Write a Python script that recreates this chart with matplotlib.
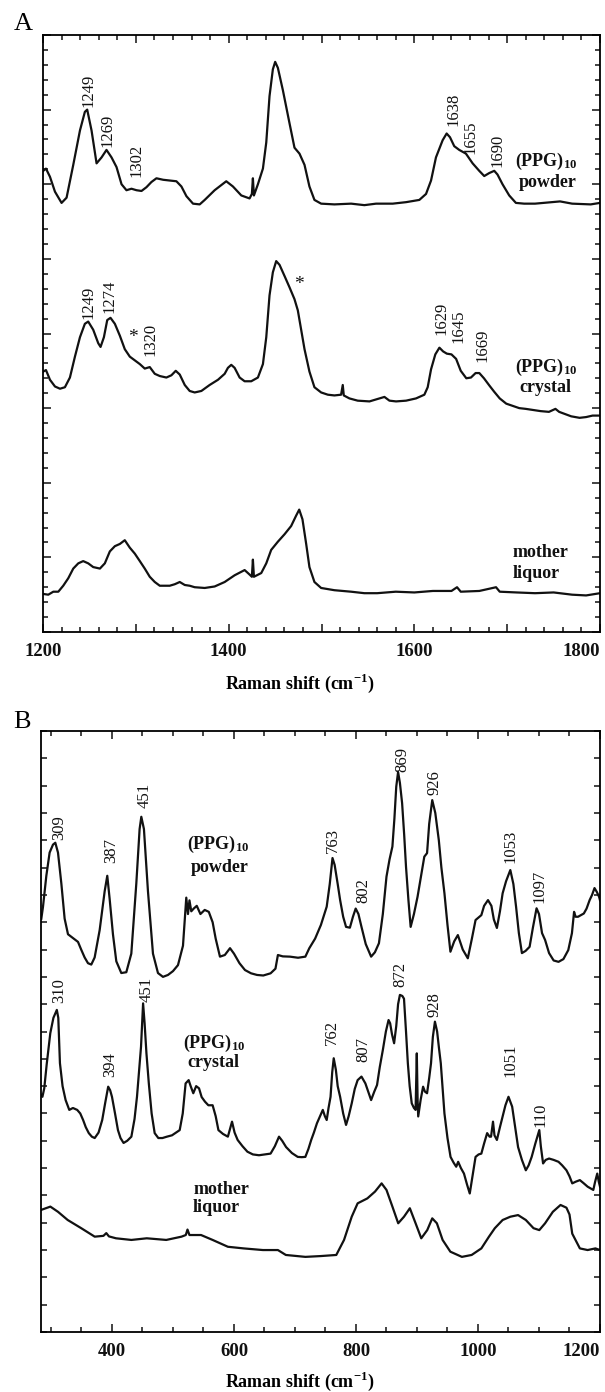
import matplotlib
matplotlib.use("Agg")
import matplotlib.pyplot as plt
from matplotlib.ticker import MultipleLocator

plt.rcParams['font.family'] = ['Liberation Serif', 'DejaVu Serif']
plt.rcParams['mathtext.fontset'] = 'custom'
plt.rcParams['mathtext.rm'] = 'Liberation Serif'
plt.rcParams['mathtext.bf'] = 'Liberation Serif:bold'

# ---------------- Panel A data (Raman shift cm-1, stacked intensity, a.u.) ----------------
a_powder_x = [1200.3, 1203.2, 1207.5, 1212.9, 1220.0, 1225.4, 1232.6, 1239.8, 1245.1, 1247.6, 1252.3, 1257.7,
              1263.1, 1268.4, 1273.8, 1279.2, 1284.6, 1289.9, 1295.3, 1300.7, 1306.1, 1311.4, 1316.8, 1322.2,
              1329.4, 1336.5, 1343.7, 1349.1, 1354.5, 1361.6, 1368.8, 1374.2, 1384.9, 1397.4, 1404.6, 1413.6,
              1422.5, 1425.0, 1426.1, 1427.2, 1431.5, 1436.9, 1440.5, 1444.0, 1447.6, 1450.1, 1453.0, 1458.4,
              1465.5, 1470.9, 1476.3, 1481.7, 1487.0, 1492.4, 1499.6, 1513.9, 1531.9, 1546.2, 1558.8, 1576.7,
              1591.1, 1605.4, 1612.6, 1618.0, 1623.3, 1630.5, 1634.8, 1638.4, 1643.0, 1648.4, 1655.6, 1662.8,
              1669.9, 1675.3, 1680.7, 1686.1, 1689.6, 1695.0, 1702.2, 1709.4, 1718.3, 1730, 1757, 1770, 1790, 1800]
a_powder_y = [6.18, 6.21, 6.10, 5.90, 5.75, 5.82, 6.26, 6.72, 6.97, 7.00, 6.72, 6.28,
              6.36, 6.46, 6.36, 6.23, 6.00, 5.92, 5.94, 5.92, 5.91, 5.96, 6.03, 6.08,
              6.06, 6.05, 6.04, 5.97, 5.84, 5.74, 5.73, 5.79, 5.92, 6.04, 5.97, 5.85,
              5.81, 5.87, 6.08, 5.85, 6.00, 6.21, 6.56, 7.18, 7.54, 7.64, 7.56, 7.26,
              6.82, 6.49, 6.41, 6.26, 5.97, 5.79, 5.74, 5.73, 5.74, 5.72, 5.74, 5.74,
              5.76, 5.79, 5.87, 6.05, 6.36, 6.59, 6.68, 6.63, 6.51, 6.46, 6.41, 6.28,
              6.18, 6.11, 6.15, 6.18, 6.13, 6.00, 5.85, 5.75, 5.74, 5.74, 5.77, 5.74, 5.73, 5.75]

a_crystal_x = [1200.3, 1203.2, 1207.5, 1212.9, 1218.3, 1223.6, 1229.0, 1234.4, 1239.8, 1245.1, 1248.7, 1254.1,
               1259.5, 1262.0, 1265.6, 1269.2, 1272.7, 1277.4, 1282.8, 1288.1, 1293.5, 1298.9, 1304.3, 1309.6,
               1315.0, 1320.4, 1325.8, 1332.9, 1338.3, 1343.0, 1347.3, 1352.7, 1358.0, 1363.4, 1370.6, 1379.5,
               1388.5, 1395.7, 1399.2, 1402.8, 1406.4, 1411.8, 1417.2, 1424.3, 1431.5, 1436.9, 1440.5, 1444.0,
               1447.6, 1451.2, 1454.8, 1460.2, 1465.5, 1470.9, 1474.5, 1478.1, 1481.7, 1487.0, 1492.4, 1499.6,
               1506.8, 1513.9, 1521.1, 1522.9, 1524.0, 1530.1, 1539.0, 1551.7, 1562.4, 1567.8, 1573.2, 1580.3,
               1591.1, 1601.8, 1610.8, 1614.4, 1618, 1622.6, 1627, 1631, 1635, 1640, 1645, 1650, 1656, 1661,
               1666, 1670, 1675, 1681, 1686, 1692, 1699, 1706, 1713, 1720, 1736, 1745, 1752, 1756, 1769, 1778,
               1785, 1792, 1800]
a_crystal_y = [3.49, 3.51, 3.38, 3.29, 3.26, 3.28, 3.41, 3.69, 3.95, 4.13, 4.16, 4.05,
               3.87, 3.82, 3.95, 4.18, 4.21, 4.13, 3.97, 3.79, 3.69, 3.64, 3.59, 3.53,
               3.55, 3.46, 3.43, 3.41, 3.44, 3.50, 3.45, 3.31, 3.23, 3.21, 3.23, 3.31,
               3.38, 3.46, 3.54, 3.58, 3.54, 3.41, 3.36, 3.36, 3.41, 3.59, 3.95, 4.51,
               4.82, 4.97, 4.92, 4.77, 4.62, 4.46, 4.31, 4.05, 3.79, 3.49, 3.28, 3.21,
               3.18, 3.17, 3.18, 3.31, 3.17, 3.13, 3.10, 3.09, 3.13, 3.15, 3.10, 3.09,
               3.10, 3.13, 3.18, 3.28, 3.52, 3.72, 3.81, 3.76, 3.73, 3.72, 3.66, 3.50, 3.40, 3.41,
               3.47, 3.47, 3.40, 3.30, 3.22, 3.13, 3.06, 3.03, 3.00, 2.99, 2.96, 2.95, 2.99, 2.95, 2.89, 2.87,
               2.88, 2.90, 2.90]

a_mother_x = [1200.3, 1205.7, 1211.1, 1216.5, 1221.8, 1227.2, 1232.6, 1238.0, 1243.3, 1248.7, 1254.1, 1261.3,
              1266.6, 1272.0, 1277.4, 1282.8, 1288.1, 1293.5, 1298.9, 1304.3, 1309.6, 1315.0, 1320.4, 1325.8,
              1331.2, 1336.5, 1341.9, 1347.3, 1352.7, 1358.0, 1363.4, 1374.2, 1384.9, 1395.7, 1406.4, 1417.2,
              1422.5, 1425.0, 1426.1, 1427.2, 1435.1, 1440.5, 1445.8, 1453.0, 1460.2, 1467.3, 1472.7, 1476.0,
              1479.5, 1483.5, 1487.0, 1492.4, 1499.6, 1513.9, 1531.9, 1546.2, 1560, 1580, 1600, 1620, 1640,
              1646, 1650, 1670, 1688, 1692, 1710, 1730, 1750, 1770, 1785, 1800]
a_mother_y = [0.51, 0.50, 0.54, 0.54, 0.62, 0.72, 0.85, 0.92, 0.95, 0.92, 0.87, 0.85,
              0.92, 1.08, 1.15, 1.18, 1.23, 1.13, 1.05, 0.95, 0.85, 0.74, 0.67, 0.62,
              0.62, 0.62, 0.64, 0.67, 0.63, 0.62, 0.60, 0.59, 0.61, 0.67, 0.76, 0.83,
              0.77, 0.74, 0.97, 0.74, 0.79, 0.92, 1.10, 1.21, 1.31, 1.42, 1.56, 1.64,
              1.51, 1.18, 0.87, 0.67, 0.59, 0.56, 0.54, 0.52, 0.52, 0.54, 0.53, 0.55, 0.55,
              0.60, 0.54, 0.55, 0.60, 0.54, 0.53, 0.52, 0.53, 0.50, 0.49, 0.52]

# peak labels: (text, x, y of label start)
a_powder_labels = [("1249", 1249, 7.04), ("1269", 1270, 6.50), ("1302", 1301, 6.10),
                   ("1638", 1642, 6.78), ("1655", 1661, 6.40), ("1690", 1690, 6.23)]
a_crystal_labels = [("1249", 1249, 4.20), ("1274", 1272, 4.28), ("1320", 1316, 3.70),
                    ("1629", 1629, 3.98), ("1645", 1648, 3.87), ("1669", 1673, 3.62)]
a_stars = [(1297, 3.94), (1476, 4.65)]

# ---------------- Panel B data ----------------
b_powder_x = [284.2, 286.9, 292.4, 297.8, 303.3, 307.1, 311.5, 317.0, 322.4, 327.9, 336.1, 344.3, 349.7, 355.2,
              360.7, 366.1, 371.6, 379.8, 388.0, 392.3, 396.2, 401.6, 407.1, 415.3, 423.5, 431.7, 439.9, 445.3,
              448.1, 452.4, 459.0, 467.2, 475.4, 483.6, 491.8, 500.0, 508.2, 516.4, 521.8, 524.6, 527.0, 530.0,
              534.0, 539.0, 545.0, 552.0, 558.7, 565.0, 570.0, 577.0, 585.0, 593.5, 600.0, 609.0, 618.0, 628.0,
              637.8, 648.0, 660.0, 668.0, 672.0, 680.0, 691.8, 705.0, 717.0, 723.5, 733.0, 742.5, 752.0, 757.0,
              761.5, 765.0, 770.0, 774.0, 779.0, 783.7, 790.0, 795.0, 799.5, 804.0, 809.0, 816.0, 824.8, 831.0,
              837.6, 844.0, 850.0, 855.0, 859.7, 863.0, 866.0, 869.0, 872.0, 875.6, 879.0, 882.0, 886.0, 889.6,
              895.0, 900.9, 906.0, 912.0, 916.5, 920.0, 925.0, 930.0, 935.8, 940.0, 945.0, 950.0, 954.8, 961.0,
              967.0, 975.0, 983.3, 990.0, 996.0, 1005.5, 1010.0, 1016.4, 1022.0, 1026.0, 1031.0, 1036.0, 1040.4,
              1046.0, 1053.0, 1058.0, 1062.4, 1067.0, 1072.0, 1078.0, 1084.6, 1090.0, 1096.0, 1100.0, 1105.0,
              1110.0, 1116.5, 1124.0, 1132.0, 1140.0, 1148.0, 1154.0, 1157.5, 1160.0, 1164.0, 1173.5, 1178.0,
              1183.0, 1187.0, 1191.0, 1195.0, 1198.5, 1200.0]
b_powder_y = [15.13, 15.56, 16.70, 17.55, 17.84, 17.91, 17.55, 16.42, 15.13, 14.56, 14.42, 14.28, 13.99, 13.71,
              13.50, 13.45, 13.71, 14.71, 16.13, 16.70, 15.85, 14.56, 13.57, 13.14, 13.17, 13.85, 16.42, 18.41,
              18.86, 18.41, 16.13, 13.85, 13.14, 13.00, 13.07, 13.21, 13.43, 14.14, 15.90, 15.30, 15.80, 15.40,
              15.50, 15.60, 15.30, 15.45, 15.38, 15.00, 14.40, 13.74, 13.80, 14.05, 13.85, 13.50, 13.25, 13.13,
              13.07, 13.05, 13.13, 13.30, 13.80, 13.75, 13.74, 13.70, 13.74, 14.05, 14.40, 14.90, 15.57, 16.40,
              17.35, 17.10, 16.40, 15.81, 15.20, 14.83, 14.80, 15.20, 15.50, 15.30, 14.83, 14.20, 13.74, 13.90,
              14.23, 15.30, 16.67, 17.30, 17.77, 18.80, 19.96, 20.50, 20.10, 19.36, 18.20, 17.03, 15.80, 14.83,
              15.30, 15.93, 16.60, 17.40, 17.53, 18.60, 19.47, 19.00, 18.00, 17.00, 16.06, 14.90, 13.92, 14.30,
              14.53, 14.00, 13.68, 14.40, 15.08, 15.26, 15.60, 15.81, 15.60, 15.10, 14.79, 15.40, 16.06,
              16.50, 16.91, 16.40, 15.57, 14.60, 13.87, 13.95, 14.10, 14.80, 15.51, 15.30, 14.60,
              14.35, 13.87, 13.60, 13.55, 13.65, 13.98, 14.60, 15.38, 15.20, 15.20, 15.32, 15.50,
              15.81, 16.00, 16.25, 16.10, 15.93, 15.80]

b_crystal_x = [283.0, 286.0, 289.0, 293.0, 298.9, 304.0, 309.6, 312.0, 314.7, 319.0, 324.0, 330.0, 336.0, 343.0,
               348.0, 352.7, 357.0, 362.0, 367.0, 371.7, 378.0, 384.0, 389.0, 393.8, 397.0, 400.0, 405.0, 409.8,
               414.0, 419.0, 425.0, 431.8, 437.0, 441.0, 444.5, 447.6, 451.0, 453.5, 456.5, 460.4, 465.0, 470.0,
               476.0, 482.7, 490.0, 498.4, 505.0, 511.0, 516.0, 520.7, 525.7, 529.0, 533.3, 538.0, 542.7, 547.0,
               552.5, 558.0, 565.0, 570.0, 574.5, 582.0, 590.0, 596.8, 601.0, 606.0, 614.0, 622.0, 631.0, 641.0,
               650.0, 660.0, 667.0, 673.8, 679.0, 685.4, 695.0, 704.5, 711.0, 717.0, 722.0, 726.6, 731.0, 736.0,
               741.0, 745.6, 749.0, 752.0, 755.0, 758.3, 761.0, 763.5, 767.0, 770.0, 774.0, 779.0, 783.7, 788.0,
               793.0, 798.0, 802.7, 809.0, 815.4, 820.0, 824.8, 830.0, 834.5, 839.0, 844.0, 849.0, 853.4, 856.0,
               859.0, 862.5, 866.0, 869.0, 872.0, 876.0, 878.7, 882.0, 885.0, 888.0, 891.4, 895.0, 897.7, 899.7,
               901.0, 902.0, 906.0, 910.0, 913.0, 916.5, 920.0, 923.0, 926.0, 929.4, 933.0, 936.0, 939.0, 942.0,
               945.0, 950.0, 955.0, 960.0, 964.3, 967.5, 972.0, 977.0, 982.0, 986.5, 991.0, 996.0, 1001.0,
               1005.5, 1010.0, 1015.0, 1019.0, 1021.4, 1024.6, 1027.0, 1031.0, 1036.0, 1040.4, 1045.0, 1050.0,
               1056.0, 1061.0, 1065.7, 1072.0, 1078.4, 1083.0, 1088.0, 1094.0, 1100.5, 1103.0, 1106.7, 1111.0,
               1116.5, 1124.0, 1132.0, 1138.0, 1145.0, 1150.0, 1154.5, 1160.0, 1167.0, 1173.0, 1179.7, 1185.0,
               1189.0, 1192.0, 1195.5, 1198.0, 1200.0]
b_crystal_y = [8.70, 8.61, 8.92, 9.80, 10.94, 11.50, 11.79, 11.50, 9.84, 9.00, 8.49, 8.13, 8.20, 8.13,
               8.00, 7.76, 7.50, 7.28, 7.15, 7.10, 7.30, 7.76, 8.40, 8.98, 8.85, 8.61, 8.00, 7.39,
               7.10, 6.92, 7.00, 7.15, 7.80, 8.61, 9.60, 10.44, 12.03, 11.30, 10.20, 9.10, 8.00, 7.28,
               7.10, 7.10, 7.15, 7.20, 7.30, 7.39, 8.00, 9.10, 9.22, 9.00, 8.74, 9.00, 8.92, 8.60,
               8.43, 8.30, 8.30, 7.90, 7.39, 7.25, 7.15, 7.70, 7.30, 7.03, 6.80, 6.60, 6.50, 6.47,
               6.50, 6.53, 6.80, 7.15, 7.00, 6.77, 6.55, 6.41, 6.40, 6.41, 6.70, 7.03, 7.30, 7.64,
               7.90, 8.13, 7.90, 7.76, 8.20, 8.61, 9.50, 10.02, 9.60, 9.00, 8.61, 8.00, 7.58, 7.90,
               8.37, 8.90, 9.22, 9.35, 9.10, 8.80, 8.49, 8.80, 9.04, 9.70, 10.32, 11.00, 11.42, 11.30,
               10.90, 10.57, 11.20, 12.00, 12.34, 12.30, 12.20, 11.00, 9.84, 9.00, 8.37, 8.20, 8.13, 10.20,
               8.50, 7.89, 8.50, 8.98, 8.80, 8.74, 9.30, 9.84, 10.80, 11.36, 11.00, 10.40, 9.84, 8.90,
               8.00, 7.10, 6.41, 6.20, 6.05, 6.23, 6.00, 5.80, 5.40, 5.07, 5.70, 6.41, 6.50,
               6.53, 6.90, 7.28, 7.15, 7.15, 7.70, 7.20, 7.03, 7.50, 7.89, 8.30, 8.61,
               8.25, 7.50, 6.77, 6.30, 5.92, 6.10, 6.41, 6.90, 7.39, 6.80, 6.17, 6.30,
               6.35, 6.30, 6.23, 6.10, 5.92, 5.70, 5.44, 5.50, 5.56, 5.45, 5.32, 5.25,
               5.20, 5.50, 5.80, 5.50, 5.32]

b_mother_x = [284, 299, 311.5, 327.4, 349.6, 371.7, 386, 390.7, 395, 406.6, 431.8, 457, 489, 514, 521, 523.8,
              527, 546, 565, 590, 615.8, 647.4, 672, 685, 717, 742.5, 767.7, 780.4, 793, 802.7, 818.6, 831.2,
              842, 850, 859.7, 869.2, 878.7, 888.3, 897.7, 907, 916.8, 925, 932.6, 942, 954.7, 973.6, 989.6,
              1005.5, 1018, 1027.6, 1040.4, 1053, 1065.7, 1078.4, 1091, 1100.5, 1110, 1122.7, 1135.3, 1145,
              1150, 1154.5, 1167, 1179.7, 1192.5, 1200]
b_mother_y = [4.47, 4.59, 4.40, 4.10, 3.80, 3.49, 3.52, 3.62, 3.50, 3.43, 3.37, 3.43, 3.37, 3.49, 3.55, 3.75,
              3.55, 3.55, 3.37, 3.12, 3.06, 3.00, 3.00, 2.82, 2.75, 2.78, 2.82, 3.37, 4.22, 4.71, 4.89, 5.14,
              5.44, 5.20, 4.59, 3.98, 4.22, 4.53, 3.98, 3.43, 3.73, 4.16, 3.98, 3.37, 2.94, 2.75, 2.82,
              3.06, 3.49, 3.80, 4.10, 4.22, 4.28, 4.10, 3.80, 3.73, 3.98, 4.40, 4.65, 4.55,
              4.30, 3.60, 3.06, 3.00, 3.06, 3.00]

b_powder_labels = [("309", 314, 18.02), ("387", 399, 17.17), ("451", 454, 19.18), ("763", 762, 17.53),
                   ("802", 812, 15.70), ("869", 876, 20.50), ("926", 929, 19.66), ("1053", 1053, 17.17),
                   ("1097", 1100, 15.70)]
b_crystal_labels = [("310", 314, 12.04), ("394", 397, 9.33), ("451", 456, 12.08), ("762", 761, 10.50),
                    ("807", 812, 9.88), ("872", 872, 12.63), ("928", 929, 11.53), ("1051", 1053, 9.33),
                    ("110", 1103, 7.50)]

a_xticks = [1200, 1300, 1400, 1500, 1600, 1700, 1800]
a_xticklabels = ["1200", "", "1400", "", "1600", "", "1800"]
b_xticks = [400, 600, 800, 1000, 1200]
b_xticklabels = ["400", "600", "800", "1000", "1200"]

# ---------------- Figure ----------------
W, H = 605, 1392
fig = plt.figure(figsize=(W / 100, H / 100), dpi=100)
ax1 = fig.add_axes([43 / W, 1 - 632 / H, 557 / W, 597 / H])
ax2 = fig.add_axes([40.6 / W, 1 - 1332 / H, 559.4 / W, 601 / H])

lw = 1.6
for x, y in [(a_powder_x, a_powder_y), (a_crystal_x, a_crystal_y), (a_mother_x, a_mother_y)]:
    ax1.plot(x, y, color='#111111', lw=lw, solid_joinstyle='round')
for x, y in [(b_powder_x, b_powder_y), (b_crystal_x, b_crystal_y), (b_mother_x, b_mother_y)]:
    ax2.plot(x, y, color='#111111', lw=lw, solid_joinstyle='round')

ax1.set_xlim(1200, 1800)
ax1.set_ylim(0, 8)
ax2.set_xlim(283, 1200)
ax2.set_ylim(0, 22)

ax1.set_xticks(a_xticks, a_xticklabels)
ax1.xaxis.set_minor_locator(MultipleLocator(20))
ax1.yaxis.set_major_locator(MultipleLocator(1))
ax1.yaxis.set_minor_locator(MultipleLocator(0.2))
ax2.set_xticks(b_xticks, b_xticklabels)
ax2.xaxis.set_minor_locator(MultipleLocator(50))
ax2.yaxis.set_major_locator(MultipleLocator(1))

for ax in (ax1, ax2):
    ax.set_yticklabels([])
    for s in ax.spines.values():
        s.set_linewidth(1.3)
    ax.tick_params(which='both', direction='in', top=True, right=True, width=1.1, colors='#111111')
    ax.tick_params(which='major', length=6, pad=8)
    ax.tick_params(which='minor', length=3.5)
    for lab in ax.get_xticklabels():
        lab.set_fontfamily('Liberation Serif')
        lab.set_fontsize(13.5)
        lab.set_fontweight('bold')
    ax.get_xticklabels()[-1].set_horizontalalignment('right')
ax2.tick_params(which='major', axis='y', length=4.5)

lab_kw = dict(rotation=90, ha='center', va='bottom', fontsize=12, color='#111111')
for t, x, y in a_powder_labels + a_crystal_labels:
    ax1.text(x, y, t, **lab_kw)
for x, y in a_stars:
    ax1.text(x, y, '*', ha='center', va='center', fontsize=14, color='#111111')
for t, x, y in b_powder_labels + b_crystal_labels:
    ax2.text(x, y, t, **lab_kw)

ppg = r"$\mathbf{(PPG)_{10}}$"
grp = dict(fontsize=13, color='#111111', fontweight='bold')
ax1.text(1742, 6.30, ppg, ha='center', va='center', **grp)
ax1.text(1744, 6.03, 'powder', ha='center', va='center', **grp)
ax1.text(1742, 3.55, ppg, ha='center', va='center', **grp)
ax1.text(1741, 3.27, 'crystal', ha='center', va='center', **grp)
ax1.text(1706, 1.06, 'mother', ha='left', va='center', **grp)
ax1.text(1706, 0.79, 'liquor', ha='left', va='center', **grp)

ax2.text(574, 17.83, ppg, ha='center', va='center', **grp)
ax2.text(577, 17.02, 'powder', ha='center', va='center', **grp)
ax2.text(568, 10.58, ppg, ha='center', va='center', **grp)
ax2.text(566, 9.85, 'crystal', ha='center', va='center', **grp)
ax2.text(533, 5.23, 'mother', ha='left', va='center', **grp)
ax2.text(533, 4.54, 'liquor', ha='left', va='center', **grp)

xlabel = r"Raman shift (cm$^{\mathbf{-1}}$)"
fig.text(300 / W, 1 - 683 / H, xlabel, ha='center', va='center', fontsize=13, fontweight='bold')
fig.text(300 / W, 1 - 1381 / H, xlabel, ha='center', va='center', fontsize=13, fontweight='bold')
fig.text(23 / W, 1 - 24 / H, 'A', ha='center', va='center', fontsize=19)
fig.text(22 / W, 1 - 722 / H, 'B', ha='center', va='center', fontsize=19)

fig.savefig('out.png', dpi=100)
